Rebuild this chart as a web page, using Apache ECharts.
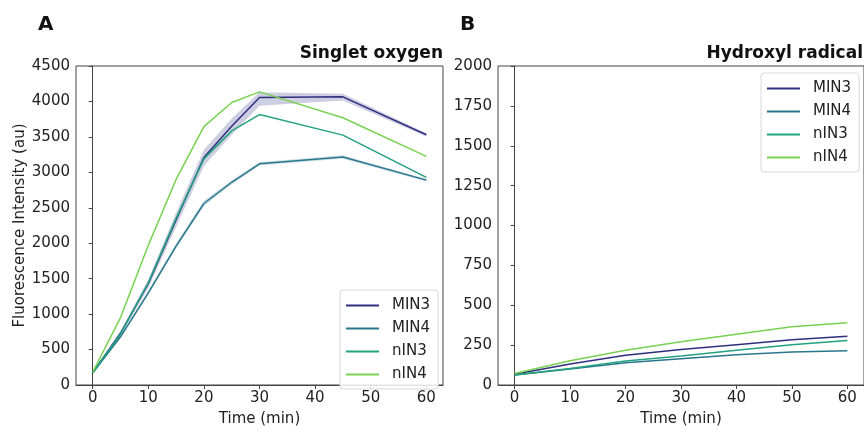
<!DOCTYPE html>
<html>
<head>
<meta charset="utf-8">
<script src="https://cdn.jsdelivr.net/npm/echarts@6/dist/echarts.min.js"></script>
<style>
html, body { margin: 0; padding: 0; background: #fff; }
#main { width: 864px; height: 432px; }
</style>
</head>
<body>
<div id="main"></div>
<script>
// singlet oxygen (panel A)
var timeA = [0, 5, 10, 15, 20, 25, 30, 45, 60];
var min3A = [175, 730, 1430, 2330, 3210, 3650, 4055, 4065, 3530];
var min4A = [170, 680, 1300, 1960, 2560, 2860, 3120, 3215, 2890];
var nin3A = [170, 720, 1440, 2350, 3190, 3585, 3815, 3525, 2930];
var nin4A = [180, 950, 1970, 2900, 3645, 3985, 4135, 3770, 3225];
// spread bands
var min3Lo = [165, 700, 1370, 2230, 3090, 3530, 3940, 4015, 3505];
var min3Hi = [185, 760, 1490, 2430, 3320, 3760, 4130, 4110, 3550];
var min4Lo = [160, 660, 1270, 1925, 2520, 2830, 3095, 3190, 2870];
var min4Hi = [180, 700, 1330, 1995, 2600, 2890, 3145, 3240, 2910];

// hydroxyl radical (panel B)
var timeB = [0, 10, 20, 30, 40, 50, 60];
var min3B = [68, 132, 186, 222, 252, 283, 306];
var min4B = [62, 100, 140, 165, 190, 207, 214];
var nin3B = [62, 104, 151, 182, 218, 252, 279];
var nin4B = [72, 152, 218, 271, 318, 365, 391];

var xTicks = [0, 10, 20, 30, 40, 50, 60];
var names = ['MIN3', 'MIN4', 'nIN3', 'nIN4'];
var colors = ['#302f7f', '#2a768c', '#23a27f', '#79d151'];

var FONT = 'DejaVu Sans';
var TXT = '#222';

function pairs(xs, ys) {
    var out = [];
    for (var i = 0; i < xs.length; i++) out.push([xs[i], ys[i]]);
    return out;
}

function band(lo, hi, color, idx) {  // polygon between lo and hi
    return {
        type: 'custom',
        xAxisIndex: idx, yAxisIndex: idx,
        silent: true, z: 1,
        data: [[0, 0]],
        renderItem: function (params, api) {
            var pts = [];
            for (var i = 0; i < timeA.length; i++) pts.push(api.coord([timeA[i], hi[i]]));
            for (var j = timeA.length - 1; j >= 0; j--) pts.push(api.coord([timeA[j], lo[j]]));
            return { type: 'polygon', shape: { points: pts }, style: { fill: color } };
        }
    };
}

function line(name, xs, ys, c, idx) {
    return {
        name: name, type: 'line', xAxisIndex: idx, yAxisIndex: idx,
        data: pairs(xs, ys), symbol: 'none', z: 3,
        lineStyle: { color: c, width: 1.5 }, itemStyle: { color: c },
        animation: false
    };
}

function xAxis(idx) {
    return {
        type: 'value', gridIndex: idx, min: -3, max: 63,
        name: 'Time (min)', nameLocation: 'middle', nameGap: 27,
        nameTextStyle: { fontFamily: FONT, fontSize: 15, color: TXT },
        splitLine: { show: false },
        axisLine: { show: true, onZero: false, lineStyle: { color: '#444', width: 1 } },
        axisTick: { show: true, length: 4, customValues: xTicks, lineStyle: { color: '#444' } },
        axisLabel: { customValues: xTicks, margin: 6, fontFamily: FONT, fontSize: 15, color: TXT }
    };
}

function yAxis(idx, max, step) {
    return {
        type: 'value', gridIndex: idx, min: 0, max: max, interval: step,
        splitLine: { show: false },
        axisLine: { show: true, lineStyle: { color: '#444', width: 1 } },
        axisTick: { show: true, length: 4, lineStyle: { color: '#444' } },
        axisLabel: { margin: 6, fontFamily: FONT, fontSize: 15, color: TXT,
                     formatter: function (v) { return String(v); } }
    };
}

function legend(left, top) {
    return {
        data: names.map(function (n) { return { name: n, icon: 'rect' }; }),
        orient: 'vertical', left: left, top: top,
        itemWidth: 33, itemHeight: 2, itemGap: 6,
        padding: [7, 8, 6, 6],
        backgroundColor: 'rgba(255,255,255,0.85)',
        borderColor: '#d8d8d8', borderWidth: 1, borderRadius: 3,
        textStyle: { fontFamily: FONT, fontSize: 15, color: TXT, padding: [0, 0, 0, 8], lineHeight: 17 }
    };
}

var chart = echarts.init(document.getElementById('main'), null, { renderer: 'canvas' });

var yA = yAxis(0, 4500, 500);
yA.name = 'Fluorescence Intensity (au)';
yA.nameLocation = 'middle';
yA.nameGap = 48;
yA.nameTextStyle = { fontFamily: FONT, fontSize: 15, color: TXT };

var option = {
    animation: false,
    backgroundColor: '#fff',
    title: [
        { text: 'A', left: 33, top: 10, textStyle: { fontFamily: FONT, fontSize: 20, fontWeight: 'bold', color: '#111' } },
        { text: 'B', left: 455, top: 10, textStyle: { fontFamily: FONT, fontSize: 20, fontWeight: 'bold', color: '#111' } },
        { text: 'Singlet oxygen', right: 421, top: 45, padding: 0,
          textStyle: { fontFamily: FONT, fontSize: 17, fontWeight: 'bold', color: '#111' } },
        { text: 'Hydroxyl radical', right: 1, top: 45, padding: 0,
          textStyle: { fontFamily: FONT, fontSize: 17, fontWeight: 'bold', color: '#111' } }
    ],
    legend: [legend(340, 290), legend(761, 73)],
    grid: [
        { left: 76, top: 66, width: 367, height: 327, show: true, borderColor: '#444', borderWidth: 1, backgroundColor: 'transparent' },
        { left: 498, top: 66, width: 366, height: 327, show: true, borderColor: '#444', borderWidth: 1, backgroundColor: 'transparent' }
    ],
    xAxis: [xAxis(0), xAxis(1)],
    yAxis: [yA, yAxis(1, 2000, 250)],
    series: [
        band(min3Lo, min3Hi, 'rgba(60,60,140,0.25)', 0),
        band(min4Lo, min4Hi, 'rgba(42,118,140,0.22)', 0),
        line(names[0], timeA, min3A, colors[0], 0),
        line(names[1], timeA, min4A, colors[1], 0),
        line(names[2], timeA, nin3A, colors[2], 0),
        line(names[3], timeA, nin4A, colors[3], 0),
        line(names[0], timeB, min3B, colors[0], 1),
        line(names[1], timeB, min4B, colors[1], 1),
        line(names[2], timeB, nin3B, colors[2], 1),
        line(names[3], timeB, nin4B, colors[3], 1)
    ]
};

chart.setOption(option);
</script>
</body>
</html>
